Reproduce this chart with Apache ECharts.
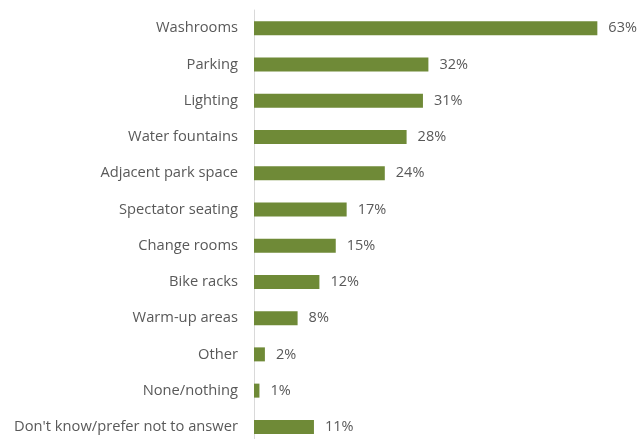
<!DOCTYPE html>
<html>
<head>
<meta charset="utf-8">
<script src="https://cdn.jsdelivr.net/npm/echarts@6/dist/echarts.min.js"></script>
<style>
  html, body { margin: 0; padding: 0; background: #fff; }
  #chart { width: 639px; height: 439px; }
</style>
</head>
<body>
<div id="chart"></div>
<script>
// Amenities respondents would like to see (share of respondents, %)
const categories = [
  "Washrooms",
  "Parking",
  "Lighting",
  "Water fountains",
  "Adjacent park space",
  "Spectator seating",
  "Change rooms",
  "Bike racks",
  "Warm-up areas",
  "Other",
  "None/nothing",
  "Don't know/prefer not to answer"
];
const percentages = [63, 32, 31, 28, 24, 17, 15, 12, 8, 2, 1, 11];

const chart = echarts.init(document.getElementById('chart'), null, { renderer: 'canvas' });

chart.setOption({
  animation: false,
  backgroundColor: '#ffffff',
  textStyle: { fontFamily: '"Open Sans", Lato, sans-serif' },
  grid: {
    left: 254, top: 10, width: 381.5, height: 435,
    containLabel: false,
    outerBoundsMode: 'none'
  },
  xAxis: {
    type: 'value',
    min: 0,
    max: 70,
    show: false
  },
  yAxis: {
    type: 'category',
    data: categories,
    inverse: true,
    axisLine: { show: true, lineStyle: { color: '#d9d9d9', width: 1 } },
    axisTick: { show: false },
    axisLabel: { color: '#595959', fontSize: 14.7, margin: 16 }
  },
  series: [{
    type: 'bar',
    data: percentages,
    barWidth: 14,
    itemStyle: { color: '#6f8a37' },
    label: {
      show: true,
      position: 'right',
      distance: 11,
      color: '#595959',
      fontSize: 14.5,
      formatter: p => p.value + '%'
    }
  }]
});
</script>
</body>
</html>
